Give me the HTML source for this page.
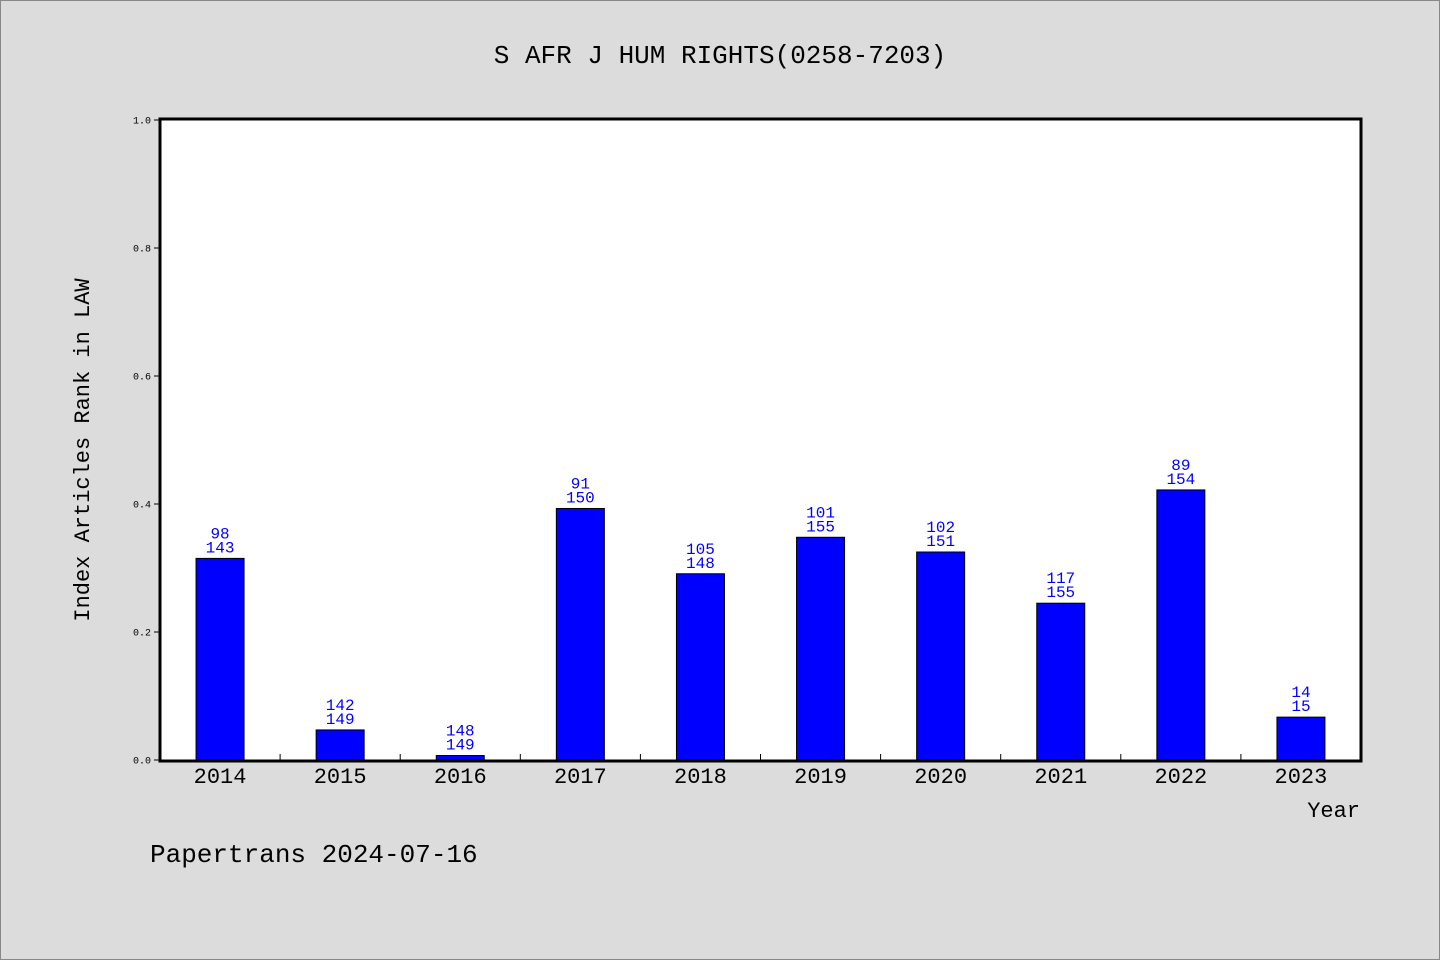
<!DOCTYPE html>
<html><head><meta charset="utf-8"><style>
body{margin:0;background:#dcdcdc;}
svg{display:block;font-family:"Liberation Mono","WenQuanYi Zen Hei",monospace;}
</style></head><body>
<svg width="1440" height="960" xmlns="http://www.w3.org/2000/svg">
<rect x="0.5" y="0.5" width="1439" height="959" fill="#dcdcdc" stroke="#888"/>
<text x="720" y="63" text-anchor="middle" font-size="26">S AFR J HUM RIGHTS(0258-7203)</text>
<rect x="160" y="119" width="1201" height="642" fill="#fff" stroke="#000" stroke-width="3"/>
<g id="axes"></g>
<g id="bars"></g>
<text x="0" y="0" transform="translate(89,450) rotate(-90)" text-anchor="middle" font-size="22">Index Articles Rank in LAW</text>
<text x="1360" y="817" text-anchor="end" font-size="22">Year</text>
<text x="150" y="862" font-size="26">Papertrans 2024-07-16</text>
</svg>
<script>
const years=["2014","2015","2016","2017","2018","2019","2020","2021","2022","2023"];
const values=[0.315,0.047,0.007,0.393,0.291,0.348,0.325,0.245,0.422,0.067];
const ranks=["98","142","148","91","105","101","102","117","89","14"];
const totals=["143","149","149","150","148","155","151","155","154","15"];
const yTicks=["0.0","0.2","0.4","0.6","0.8","1.0"];

const NS="http://www.w3.org/2000/svg";
const x0=160,x1=1361,y0=760,y1=120;
const bandW=(x1-x0)/years.length;
function xc(i){return x0+bandW*(i+0.5);}
function yv(v){return y0-(y0-y1)*v;}
function mk(tag,attrs,parent){const e=document.createElementNS(NS,tag);for(const k in attrs)e.setAttribute(k,attrs[k]);parent.appendChild(e);return e;}
const axes=document.getElementById('axes'),bars=document.getElementById('bars');
yTicks.forEach(t=>{
  const y=yv(parseFloat(t));
  const l=mk('line',{x1:154,x2:160,y1:y,y2:y,stroke:'#000'},axes);
  
  
  const tx=mk('text',{x:151,y:y+3.5,'text-anchor':'end','font-size':10},axes);
  tx.textContent=t;
  
  
});
years.forEach((yr,i)=>{
  if(i>0){
    const tl=mk('line',{x1:x0+bandW*i,x2:x0+bandW*i,y1:y0,y2:y0-6,stroke:'#000'},axes);
    
    
  }
  const lab=mk('text',{x:xc(i),y:783,'text-anchor':'middle','font-size':22},axes);
  lab.textContent=yr;
  
  
  const top=yv(values[i]);
  const b=mk('rect',{x:xc(i)-24,y:top,width:48,height:y0-top,fill:'#0000ff',stroke:'#000','stroke-width':1},bars);
  
  
  const r=mk('text',{x:xc(i),y:top-20,'text-anchor':'middle','font-size':16,fill:'#0000ff'},bars);
  r.textContent=ranks[i];
  
  
  const t=mk('text',{x:xc(i),y:top-6,'text-anchor':'middle','font-size':16,fill:'#0000ff'},bars);
  t.textContent=totals[i];
  
  
});
</script>
</body></html>
